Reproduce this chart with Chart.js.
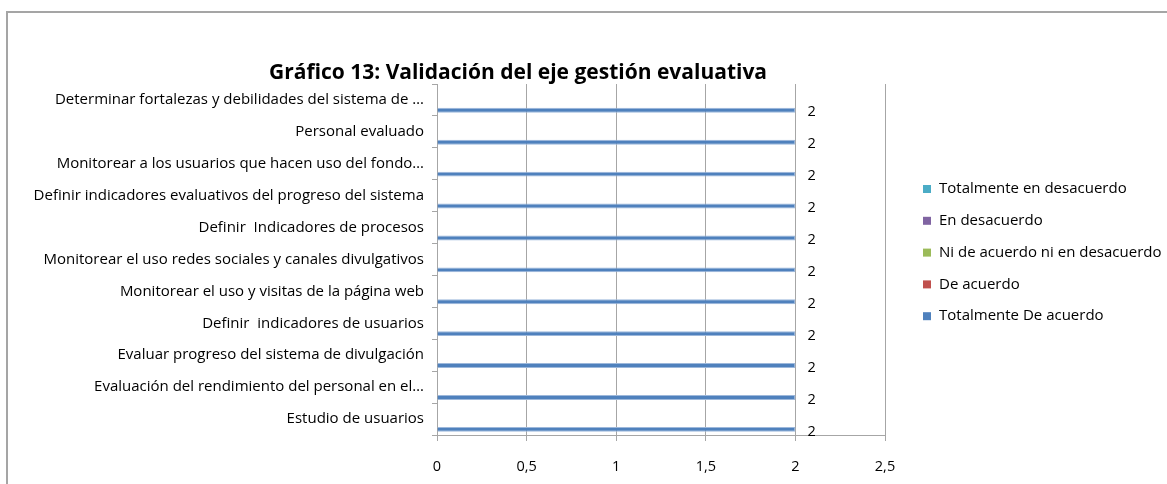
<!DOCTYPE html>
<html>
<head>
<meta charset="utf-8">
<script src="https://cdn.jsdelivr.net/npm/chart.js@4/dist/chart.umd.min.js"></script>
<style>
  html, body { margin: 0; padding: 0; background: #fff; }
  canvas { display: block; }
</style>
</head>
<body>
<canvas id="chart" width="1167" height="484"></canvas>
<script>
const title = 'Gráfico 13: Validación del eje gestión evaluativa';

const categories = [
  'Determinar fortalezas y debilidades del sistema de …',
  'Personal evaluado',
  'Monitorear a los usuarios que hacen uso del fondo…',
  'Definir indicadores evaluativos del progreso del sistema',
  'Definir  Indicadores de procesos',
  'Monitorear el uso redes sociales y canales divulgativos',
  'Monitorear el uso y visitas de la página web',
  'Definir  indicadores de usuarios',
  'Evaluar progreso del sistema de divulgación',
  'Evaluación del rendimiento del personal en el…',
  'Estudio de usuarios'
];

// series, top to bottom as in the legend
const totalDesacuerdo = [0, 0, 0, 0, 0, 0, 0, 0, 0, 0, 0];
const enDesacuerdo    = [0, 0, 0, 0, 0, 0, 0, 0, 0, 0, 0];
const niNi            = [0, 0, 0, 0, 0, 0, 0, 0, 0, 0, 0];
const deAcuerdo       = [0, 0, 0, 0, 0, 0, 0, 0, 0, 0, 0];
const totalAcuerdo    = [2, 2, 2, 2, 2, 2, 2, 2, 2, 2, 2];

const xTicks = [0, 0.5, 1, 1.5, 2, 2.5];

const FONT = '"Open Sans"';
const GRID = '#a6a6a6';

// outer frame (left + top edges only, as in the original)
const framePlugin = {
  id: 'frame',
  beforeDraw(chart) {
    const ctx = chart.ctx;
    ctx.save();
    ctx.fillStyle = '#fff';
    ctx.fillRect(0, 0, chart.width, chart.height);
    ctx.strokeStyle = '#a5a5a5';
    ctx.lineWidth = 2;
    ctx.beginPath();
    ctx.moveTo(7, chart.height);
    ctx.lineTo(7, 12);
    ctx.lineTo(chart.width, 12);
    ctx.stroke();
    ctx.restore();
  }
};

const titlePlugin = {
  id: 'chartTitle',
  afterDraw(chart) {
    const ctx = chart.ctx;
    ctx.save();
    ctx.font = 'bold 21px ' + FONT;
    ctx.fillStyle = '#000';
    ctx.textAlign = 'center';
    ctx.textBaseline = 'alphabetic';
    ctx.fillText(title, 518, 79);
    ctx.restore();
  }
};

// value labels for the only non-empty series
const valueLabels = {
  id: 'valueLabels',
  afterDatasetsDraw(chart) {
    const ctx = chart.ctx;
    const idx = chart.data.datasets.length - 1;
    const meta = chart.getDatasetMeta(idx);
    ctx.save();
    ctx.font = '14.5px ' + FONT;
    ctx.fillStyle = '#000';
    ctx.textAlign = 'left';
    ctx.textBaseline = 'middle';
    meta.data.forEach((el, i) => {
      const v = chart.data.datasets[idx].data[i];
      ctx.fillText(String(v).replace('.', ','), el.x + 12, el.y + 2);
    });
    ctx.restore();
  }
};

const sideLegend = {
  id: 'sideLegend',
  afterDraw(chart) {
    const ctx = chart.ctx;
    ctx.save();
    ctx.font = '15px ' + FONT;
    ctx.textAlign = 'left';
    ctx.textBaseline = 'middle';
    chart.data.datasets.forEach((ds, i) => {
      const y = 189 + i * 31.8;
      ctx.fillStyle = ds.backgroundColor;
      ctx.fillRect(923, y - 4, 8, 8);
      ctx.fillStyle = '#000';
      ctx.fillText(ds.label, 939, y);
    });
    ctx.restore();
  }
};

const mk = (label, data, color, edge) => ({
  label, data,
  backgroundColor: color,
  borderColor: edge,
  borderWidth: 1,
  categoryPercentage: 0.81,
  barPercentage: 0.95
});

new Chart(document.getElementById('chart'), {
  type: 'bar',
  data: {
    labels: categories,
    datasets: [
      mk('Totalmente en desacuerdo', totalDesacuerdo, '#4BACC6', '#9fd1df'),
      mk('En desacuerdo', enDesacuerdo, '#8064A2', '#bcaed0'),
      mk('Ni de acuerdo ni en desacuerdo', niNi, '#9BBB59', '#c9dba8'),
      mk('De acuerdo', deAcuerdo, '#C0504D', '#dfa3a1'),
      mk('Totalmente De acuerdo', totalAcuerdo, '#4F81BD', '#9db8db')
    ]
  },
  options: {
    indexAxis: 'y',
    responsive: false,
    animation: false,
    layout: { padding: { left: 8, right: 1167 - 885, top: 84, bottom: 0 } },
    plugins: {
      legend: { display: false },
      title: { display: false },
      tooltip: { enabled: false }
    },
    scales: {
      x: {
        min: xTicks[0],
        max: xTicks[xTicks.length - 1],
        afterBuildTicks: (s) => { s.ticks = xTicks.map(v => ({ value: v })); },
        afterFit: (s) => { s.height = 49; },
        grid: { color: GRID, tickLength: 6, drawTicks: true },
        border: { color: GRID },
        ticks: {
          padding: 17,
          color: '#000',
          font: { family: FONT, size: 14.5 },
          callback: (v) => String(v).replace('.', ',')
        }
      },
      y: {
        afterFit: (s) => { s.width = 429; },
        grid: { drawOnChartArea: false, color: GRID, tickLength: 5, offset: true },
        border: { color: GRID },
        ticks: {
          padding: 8,
          color: '#000',
          autoSkip: false,
          font: { family: FONT, size: 15 }
        }
      }
    }
  },
  plugins: [framePlugin, titlePlugin, valueLabels, sideLegend]
});
</script>
</body>
</html>
